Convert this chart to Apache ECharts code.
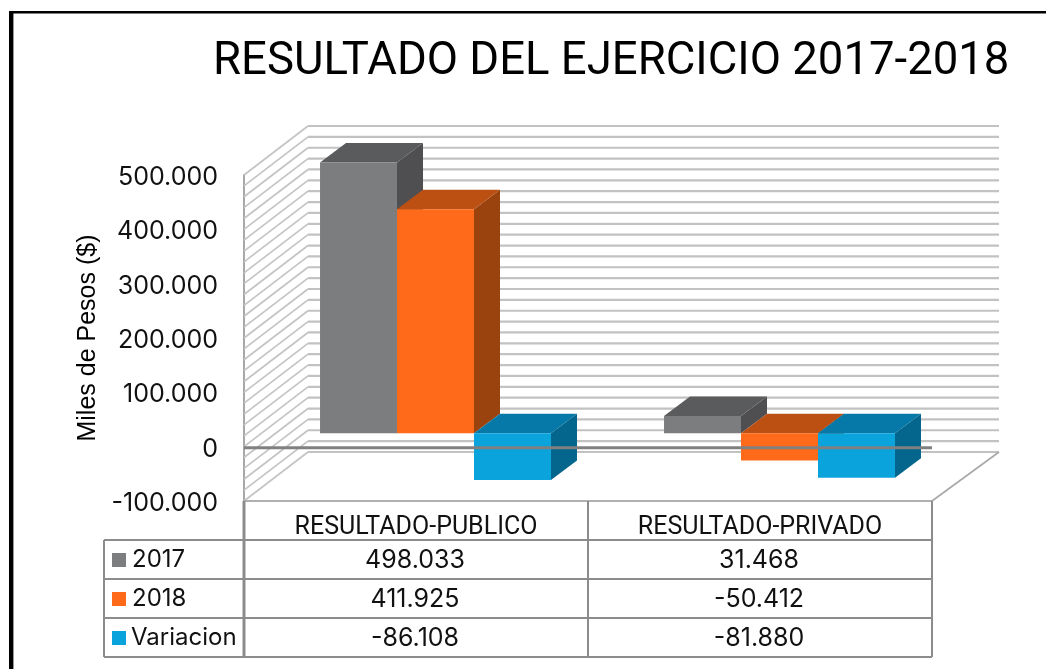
<!DOCTYPE html>
<html><head><meta charset="utf-8">
<style>html,body{margin:0;padding:0;background:#fff}#c{width:1046px;height:669px}</style>
<script src="https://cdn.jsdelivr.net/npm/echarts@6/dist/echarts.min.js"></script>
</head><body><div id="c"></div>
<script>
const categories = ['RESULTADO-PUBLICO', 'RESULTADO-PRIVADO'];
const seriesNames = ['2017', '2018', 'Variacion'];
const values2017 = [498033, 31468];
const values2018 = [411925, -50412];
const valuesVariacion = [-86108, -81880];
const gridValues = [-100000,-80000,-60000,-40000,-20000,0,20000,40000,60000,80000,100000,120000,140000,160000,180000,200000,220000,240000,260000,280000,300000,320000,340000,360000,380000,400000,420000,440000,460000,480000,500000];
const titleText = 'RESULTADO DEL EJERCICIO 2017-2018';
const yTitle = 'Miles de Pesos ($)';

const faces = [
  {front:'#7c7d7f', top:'#5a5b5d', side:'#4f4f51'},
  {front:'#fe6a1a', top:'#bb5012', side:'#9b430f'},
  {front:'#0ba3dc', top:'#0679a8', side:'#04668c'}
];
const fmt = v => { const a = Math.abs(v), s = a >= 1000 ? Math.floor(a/1000) + '.' + String(a%1000).padStart(3,'0') : String(a); return (v<0?'-':'') + s; };
const NUMFONT = 'Inter', LBLFONT = 'Roboto';

const barSeries = (name, data, i) => ({
  type:'custom', name, silent:true, clip:false, z:3,
  coordinateSystem:'cartesian2d',
  encode:{x:0,y:1},
  data:data.map((v,k)=>[k,v]),
  renderItem(params, api){
    const cat = api.value(0), v = api.value(1);
    const band = api.size([1,0])[0];
    const c0 = api.coord([cat,0]), cv = api.coord([cat,v]);
    const lift = 13.5, dx = 26, dy = -19.5;
    const w = band*0.2238;
    const x = c0[0]-band/2 + band*0.221 + i*w;
    const yT = Math.min(c0[1],cv[1]) - lift, yB = Math.max(c0[1],cv[1]) - lift;
    const f = faces[i];
    return {type:'group', children:[
      {type:'polygon', shape:{points:[[x+w,yT],[x+w+dx,yT+dy],[x+w+dx,yB+dy],[x+w,yB]]}, style:{fill:f.side}},
      {type:'polygon', shape:{points:[[x,yT],[x+dx,yT+dy],[x+w+dx,yT+dy],[x+w,yT]]}, style:{fill:f.top}},
      {type:'rect', shape:{x,y:yT,width:w,height:yB-yT}, style:{fill:f.front}}
    ]};
  }
});

const wallSeries = {
  type:'custom', silent:true, clip:false, z:1,
  coordinateSystem:'cartesian2d',
  encode:{x:0,y:1},
  data:gridValues.map(v=>[0,v]),
  renderItem(params, api){
    const cs = params.coordSys;
    const y = api.coord([0,api.value(1)])[1];
    const ddx = 64, ddy = -49, x0 = cs.x, x1 = cs.x+cs.width;
    const kids = [
      {type:'line', shape:{x1:x0,y1:y,x2:x0+ddx,y2:y+ddy}, style:{stroke:'#c4c4c4',lineWidth:1.7}},
      {type:'line', shape:{x1:x0+ddx,y1:y+ddy,x2:x1+67,y2:y+ddy}, style:{stroke:'#c2c2c2',lineWidth:2.2}}
    ];
    if (api.value(1) === gridValues[0]) kids.push({type:'line', shape:{x1:x1,y1:y,x2:x1+67,y2:y+ddy}, style:{stroke:'#a8a8a8',lineWidth:1.6}});
    return {type:'group', children:kids};
  }
};

// zero line, painted over the bars as in the reference
const zeroLineSeries = {
  type:'custom', silent:true, clip:false, z:8,
  coordinateSystem:'cartesian2d',
  encode:{x:0,y:1},
  data:[[0,0]],
  renderItem(params, api){
    const cs = params.coordSys;
    const y = api.coord([0,api.value(1)])[1] + 1;
    return {type:'line', shape:{x1:cs.x,y1:y,x2:cs.x+cs.width,y2:y}, style:{stroke:'#808080',lineWidth:3}};
  }
};

// data table
const TX = [104,244,588,932], TY = [501,540,579,618,657];
const line = (x1,y1,x2,y2,w,c) => ({type:'line',z:5,shape:{x1,y1,x2,y2},style:{stroke:c||'#8c8c8c',lineWidth:w||2}});
const tableLines = [
  line(244,501,932,501,2,'#b0b0b0'),
  line(244,540,932,540), line(104,579,932,579), line(104,618,932,618), line(104,657,932,657),
  line(104,540,244,540),
  line(104,540,104,657), line(244,501,244,657,3), line(588,501,588,657), line(932,501,932,657)
];
const rows = [values2017, values2018, valuesVariacion];
const tableText = [];
rows.forEach((r,i)=>{
  const cy = (TY[i+1]+TY[i+2])/2;
  tableText.push({type:'rect',z:5,shape:{x:112,y:cy-6.5,width:14,height:14},style:{fill:faces[i].front}});
  tableText.push({type:'text',z:5,style:{text:seriesNames[i],x:i===2?131:132,y:cy,verticalAlign:'middle',fill:'#111',font:'24px '+NUMFONT}});
  r.forEach((v,k)=>{
    tableText.push({type:'text',z:5,style:{text:fmt(v),x:(TX[k+1]+TX[k+2])/2-1,y:cy+1,align:'center',verticalAlign:'middle',fill:'#111',font:'25px '+NUMFONT}});
  });
});
const frame = [
  {type:'rect',z:6,shape:{x:9,y:11,width:1037,height:2.4},style:{fill:'#000'}},
  {type:'rect',z:6,shape:{x:9,y:11,width:4.4,height:658},style:{fill:'#000'}}
];

const chart = echarts.init(document.getElementById('c'), null, {renderer:'canvas'});
chart.setOption({
  animation:false,
  backgroundColor:'#fff',
  title:{text:titleText,left:208,top:35,textStyle:{fontFamily:'Roboto',fontSize:45.5,fontWeight:'normal',color:'#000'}},
  grid:{left:244,top:175,width:688,height:326,containLabel:false},
  xAxis:{type:'category',data:categories,
    axisLine:{show:false},
    axisTick:{show:false},
    axisLabel:{margin:14,interval:0,fontFamily:LBLFONT,fontSize:25,color:'#111'},
    splitLine:{show:false}},
  yAxis:{type:'value',min:-100000,max:500000,interval:100000,
    name:yTitle,nameLocation:'middle',nameRotate:90,nameGap:141,
    nameTextStyle:{fontFamily:'Liberation Sans',fontSize:25,color:'#000'},
    axisLine:{show:true,onZero:false,lineStyle:{color:'#a8a8a8',width:2}},
    axisTick:{show:false},splitLine:{show:false},
    axisLabel:{margin:26,fontFamily:NUMFONT,fontSize:25,color:'#111',verticalAlign:'top',lineHeight:5,formatter:v=>fmt(v)}},
  series:[wallSeries,
    barSeries(seriesNames[0],values2017,0),
    barSeries(seriesNames[1],values2018,1),
    barSeries(seriesNames[2],valuesVariacion,2),
    zeroLineSeries],
  graphic:{elements:[...frame,...tableLines,...tableText]}
});
</script></body></html>
